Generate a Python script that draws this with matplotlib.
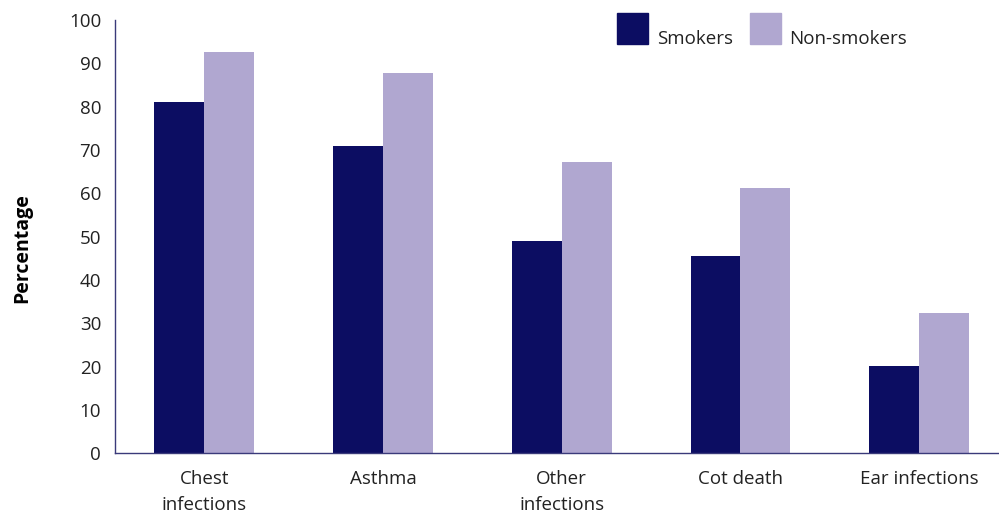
import numpy as np
import matplotlib
matplotlib.use('Agg')
import matplotlib.pyplot as plt
from matplotlib.patches import Rectangle

plt.rcParams['font.family'] = ['Open Sans', 'DejaVu Sans']

categories = ['Chest\ninfections', 'Asthma', 'Other\ninfections', 'Cot death', 'Ear infections']
series_names = ['Smokers', 'Non-smokers']
smokers = [81, 71, 49, 45.5, 20.2]
non_smokers = [92.6, 87.8, 67.2, 61.2, 32.4]

col_smk = '#0c0d62'
col_non = '#b0a7d0'
axis_col = '#3a3a7a'
txt_col = '#222222'

fig = plt.figure(figsize=(9.99, 5.16), dpi=100)
ax = fig.add_axes([0.1151, 0.1215, 0.8944, 0.8397])

x = np.arange(len(categories))
w = 0.279
ax.bar(x - w/2, smokers, w, color=col_smk)
ax.bar(x + w/2, non_smokers, w, color=col_non)

ax.set_xlim(-0.5, 4.5)
ax.set_ylim(0, 100)
ax.set_yticks(range(0, 101, 10))
ax.set_xticks(x)
ax.set_xticklabels(categories, fontsize=13.5, color=txt_col, linespacing=1.6)
ax.tick_params(axis='y', labelsize=13.5, labelcolor=txt_col, length=0, pad=10)
ax.tick_params(axis='x', length=0, pad=12)

for s in ['top', 'right']:
    ax.spines[s].set_visible(False)
for s in ['left', 'bottom']:
    ax.spines[s].set_color(axis_col)
    ax.spines[s].set_linewidth(1.0)

ax.set_ylabel('Percentage', fontsize=14, fontweight='bold')
ax.yaxis.set_label_coords(-0.093, 0.4727)

# legend drawn by hand: square + label
W, H = 999.0, 516.0
for (x0, tx), name, c in zip([(617, 657), (750, 789)], series_names, [col_smk, col_non]):
    fig.patches.append(Rectangle((x0 / W, 1 - 44 / H), 31 / W, 31 / H,
                                 transform=fig.transFigure, color=c))
    fig.text(tx / W, 1 - 44 / H, name, fontsize=13.5, color=txt_col,
             ha='left', va='baseline')

fig.savefig('out.png', dpi=100)
